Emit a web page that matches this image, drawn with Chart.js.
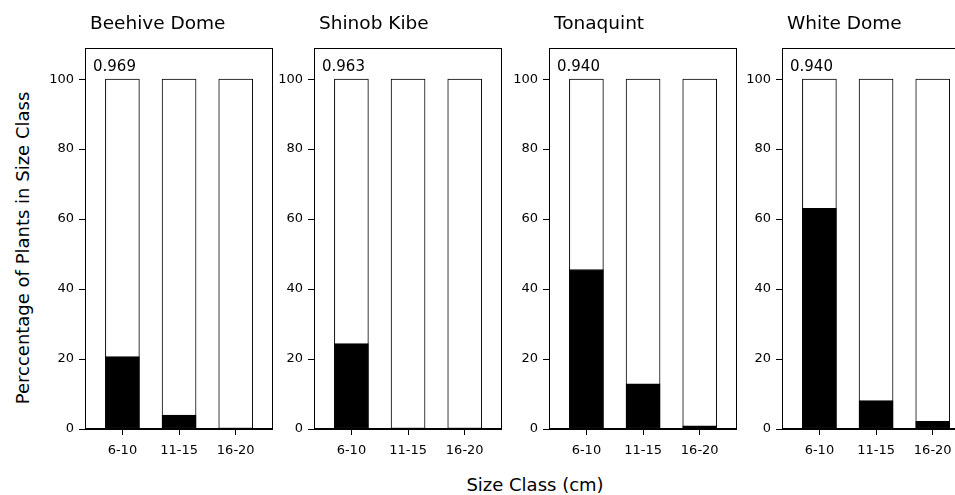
<!DOCTYPE html>
<html>
<head>
<meta charset="utf-8">
<script src="https://cdn.jsdelivr.net/npm/chart.js@4"></script>
<style>
  html, body { margin: 0; padding: 0; background: #fff; overflow: hidden; }
  body { width: 955px; height: 495px; position: relative; font-family: "DejaVu Sans", sans-serif; }
  .panel { position: absolute; top: 0; height: 470px; }
  .ytitle { position: absolute; left: 22px; top: 248px; transform: translate(-50%, -50%) rotate(-90deg);
            white-space: nowrap; font-size: 18px; color: #000; }
  .xtitle { position: absolute; left: 535px; top: 484px; transform: translate(-50%, -50%);
            white-space: nowrap; font-size: 18px; color: #000; }
</style>
</head>
<body>
<div class="ytitle">Perccentage of Plants in Size Class</div>
<div class="xtitle">Size Class (cm)</div>
<div id="panels"></div>
<script>
document.addEventListener("DOMContentLoaded", function () {
    // Data
    var categories = ['6-10', '11-15', '16-20'];
    var sites = ['Beehive Dome', 'Shinob Kibe', 'Tonaquint', 'White Dome'];
    var indexLabels = ['0.969', '0.963', '0.940', '0.940'];
    var beehiveDome = [20.7, 4.0, 0];
    var shinobKibe = [24.4, 0, 0];
    var tonaquint = [45.6, 12.9, 0.9];
    var whiteDome = [63.1, 8.1, 2.2];
    var totals = [100, 100, 100];
    var yTicks = [0, 20, 40, 60, 80, 100];

    var series = [beehiveDome, shinobKibe, tonaquint, whiteDome];
    var boxLeft = [85, 314, 549, 782];
    var boxWidth = 186;
    var axisW = 60;

    var font = "'DejaVu Sans', sans-serif";

    // draws the frame, panel title and the index value
    var framePlugin = {
        id: 'frame',
        afterDraw: function (chart, args, opts) {
            var a = chart.chartArea;
            var ctx = chart.ctx;
            ctx.save();
            ctx.strokeStyle = '#000';
            ctx.lineWidth = 1;
            ctx.strokeRect(Math.round(a.left) + 0.5, Math.round(a.top) + 0.5,
                Math.round(a.right - a.left), Math.round(a.bottom - a.top) - 1);
            ctx.fillStyle = '#000';
            ctx.textAlign = 'left';
            ctx.textBaseline = 'alphabetic';
            ctx.font = '18.5px ' + font;
            ctx.fillText(opts.title, a.left + 5, 29);
            ctx.font = '15px ' + font;
            ctx.fillText(opts.value, a.left + 8, 71);
            ctx.restore();
        }
    };

    var holder = document.getElementById('panels');

    series.forEach(function (values, i) {
        var div = document.createElement('div');
        div.className = 'panel';
        div.style.left = (boxLeft[i] - axisW) + 'px';
        div.style.width = (axisW + boxWidth + 2) + 'px';
        var canvas = document.createElement('canvas');
        div.appendChild(canvas);
        holder.appendChild(div);

        var idx = categories.map(function (c, k) { return k; });

        new Chart(canvas, {
            type: 'bar',
            data: {
                datasets: [{
                    label: 'Black',
                    data: idx.map(function (k) { return { x: k, y: values[k] }; }),
                    backgroundColor: '#000',
                    borderColor: '#000',
                    borderWidth: 1,
                    borderSkipped: false,
                    barThickness: 34
                }, {
                    label: 'Total',
                    data: idx.map(function (k) { return { x: k, y: totals[k] }; }),
                    backgroundColor: '#fff',
                    borderColor: '#000',
                    borderWidth: 1,
                    borderSkipped: false,
                    barThickness: 34
                }]
            },
            options: {
                responsive: true,
                maintainAspectRatio: false,
                animation: false,
                layout: { padding: { top: 48, left: 0, right: 1, bottom: 0 } },
                plugins: {
                    legend: { display: false },
                    tooltip: { enabled: false },
                    frame: { title: sites[i], value: indexLabels[i] }
                },
                scales: {
                    x: {
                        type: 'linear',
                        stacked: true,
                        offset: false,
                        min: -0.66,
                        max: 2.64,
                        afterBuildTicks: function (s) {
                            s.ticks = idx.map(function (k) { return { value: k }; });
                        },
                        afterFit: function (s) { s.height = 41; },
                        ticks: {
                            autoSkip: false,
                            maxRotation: 0,
                            padding: 8,
                            color: '#000',
                            font: { family: font, size: 13 },
                            callback: function (v) { return categories[v]; }
                        },
                        grid: {
                            offset: false,
                            drawOnChartArea: false,
                            drawTicks: true,
                            tickLength: 6,
                            color: '#000'
                        },
                        border: { display: true, color: '#000' }
                    },
                    y: {
                        stacked: false,
                        min: 0,
                        max: 108.9,
                        afterBuildTicks: function (s) {
                            s.ticks = yTicks.map(function (v) { return { value: v }; });
                        },
                        afterFit: function (s) { s.width = axisW; },
                        ticks: {
                            padding: 5,
                            color: '#000',
                            font: { family: font, size: 13 }
                        },
                        grid: {
                            drawOnChartArea: false,
                            drawTicks: true,
                            tickLength: 6,
                            color: '#000'
                        },
                        border: { display: true, color: '#000' }
                    }
                }
            },
            plugins: [framePlugin]
        });
    });
});
</script>
</body>
</html>
